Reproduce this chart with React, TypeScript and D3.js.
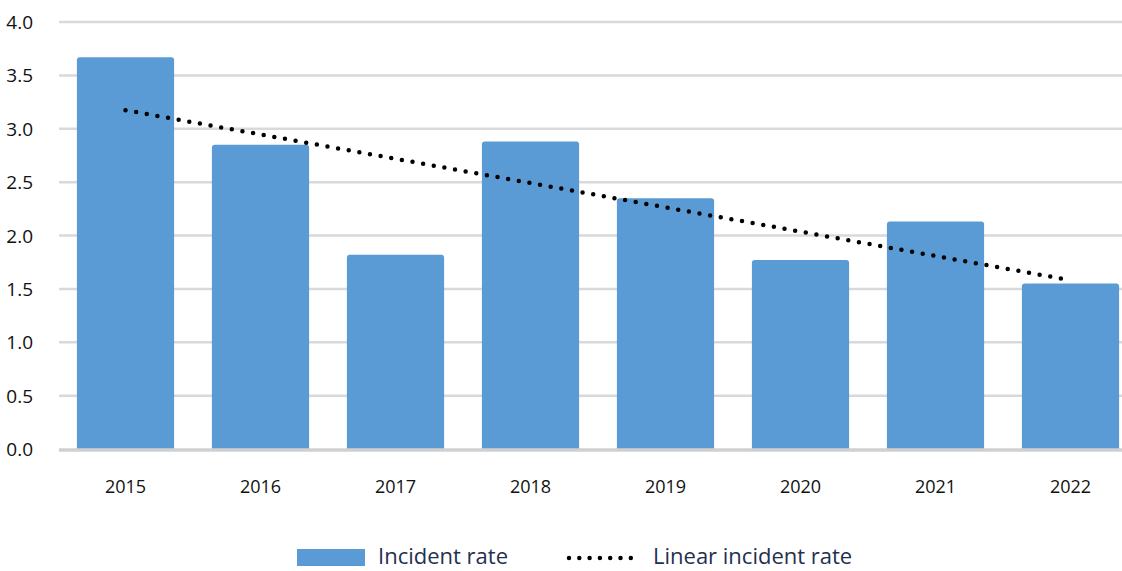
import React from "react";
import * as d3 from "d3";

const years = ["2015", "2016", "2017", "2018", "2019", "2020", "2021", "2022"];
const incidentRate = [3.67, 2.85, 1.82, 2.88, 2.35, 1.77, 2.13, 1.55];
const yTicks = [0, 0.5, 1, 1.5, 2, 2.5, 3, 3.5, 4];

const W = 1122;
const H = 571;
const FONT = "'Open Sans', 'Noto Sans', sans-serif";

export default function App() {
  const x = d3.scaleBand<string>().domain(years).range([58, 1138]).paddingInner(0.28).paddingOuter(0.14);
  const y = d3.scaleLinear().domain([0, 4]).range([449, 22]);

  // linear regression trend
  const n = incidentRate.length;
  const xs = incidentRate.map((_, i) => i);
  const mx = d3.mean(xs)!;
  const my = d3.mean(incidentRate)!;
  const sxy = d3.sum(xs.map((v, i) => (v - mx) * (incidentRate[i] - my)));
  const sxx = d3.sum(xs.map((v) => (v - mx) * (v - mx)));
  const slope = sxy / sxx;
  const intercept = my - slope * mx;
  const trend = [0, n - 1].map((i) => ({ i, v: intercept + slope * i }));
  const line = d3
    .line<{ i: number; v: number }>()
    .x((d) => x(years[d.i])! + x.bandwidth() / 2)
    .y((d) => y(d.v));

  const r = 3;
  const barPath = (x0: number, y0: number, w: number, y1: number) =>
    `M${x0},${y1}V${y0 + r}Q${x0},${y0} ${x0 + r},${y0}H${x0 + w - r}Q${x0 + w},${y0} ${x0 + w},${y0 + r}V${y1}Z`;

  return (
    <svg width={W} height={H} style={{ position: "absolute", left: 0, top: 0, background: "#fff" }}>
      {yTicks.map((t) => (
        <g key={t}>
          {t > 0 && <line x1={59} x2={W} y1={y(t)} y2={y(t)} stroke="#D9D9D9" strokeWidth={2.5} />}
          <text x={33} y={y(t) + 7} textAnchor="end" fontFamily={FONT} fontSize={19} fill="#111">
            {t.toFixed(1)}
          </text>
        </g>
      ))}
      {years.map((yr, i) => (
        <path
          key={yr}
          d={barPath(x(yr)!, y(incidentRate[i]), x.bandwidth(), y(0))}
          fill="#5B9BD5"
        />
      ))}
      <line x1={59} x2={W} y1={y(0) + 1} y2={y(0) + 1} stroke="#D0D0D0" strokeWidth={3.5} />
      {years.map((yr) => (
        <text
          key={yr}
          x={x(yr)! + x.bandwidth() / 2}
          y={493}
          textAnchor="middle"
          fontFamily={FONT}
          fontSize={18}
          fill="#111"
        >
          {yr}
        </text>
      ))}
      <path
        d={line(trend)!}
        fill="none"
        stroke="#000"
        strokeWidth={4.5}
        strokeLinecap="round"
        strokeDasharray="0 10.8"
      />
      {/* legend */}
      <rect x={297} y={549} width={68} height={17} fill="#5B9BD5" />
      <text x={378} y={564} fontFamily={FONT} fontSize={22} fill="#1F3050">
        Incident rate
      </text>
      <line
        x1={569}
        x2={641}
        y1={558}
        y2={558}
        stroke="#000"
        strokeWidth={4.5}
        strokeLinecap="round"
        strokeDasharray="0 10.3"
      />
      <text x={653} y={564} fontFamily={FONT} fontSize={22} fill="#1F3050">
        Linear incident rate
      </text>
    </svg>
  );
}
